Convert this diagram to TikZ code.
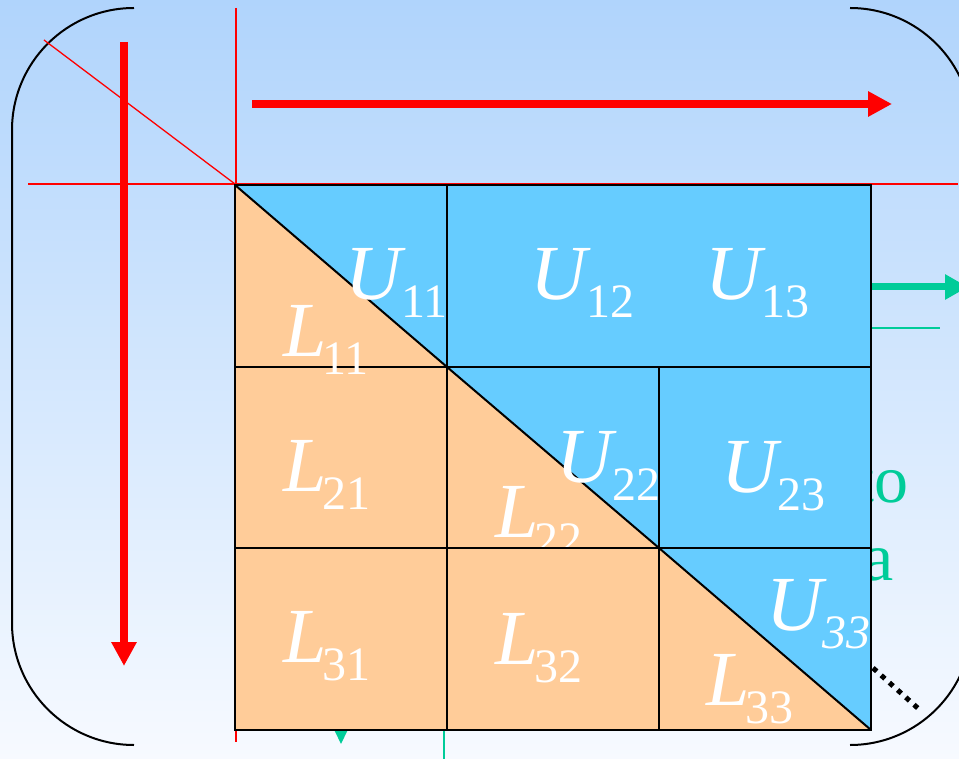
\documentclass[tikz,border=0pt]{standalone}
\usepackage{fontspec}
\setmainfont{Liberation Serif}
\usetikzlibrary{arrows.meta}
\definecolor{ublue}{RGB}{102,204,255}
\definecolor{lorange}{RGB}{255,204,153}
\definecolor{tgreen}{RGB}{0,204,153}
\definecolor{bgtop}{RGB}{176,212,252}
\definecolor{bgbot}{RGB}{247,250,255}
\newcommand\mlab[2]{\textit{#1}\kern-4pt\raisebox{-18pt}{\fontsize{48}{48}\selectfont #2}}
\tikzset{
  cellline/.style={draw=black,line width=2pt},
  lab/.style={text=white,inner sep=0pt,anchor=base west,font=\fontsize{78}{80}\selectfont},
  gtext/.style={text=tgreen,inner sep=0pt,anchor=base east,font=\fontsize{68}{70}\selectfont},
  thinred/.style={draw=red,line width=1.3pt},
  bigred/.style={draw=red,line width=8pt,-{Triangle[length=24pt,width=24pt]}},
  bracket/.style={draw=black,line width=2pt},
}
\begin{document}
\begin{tikzpicture}[x=1pt,y=-1pt]
\useasboundingbox (0,0) rectangle (959,759);
\clip (0,0) rectangle (959,759);
\shade[top color=bgtop,bottom color=bgbot] (0,0) rectangle (959,759);
% brackets
\draw[bracket] (134,8) .. controls (66.6,8) and (12,62.6) .. (12,130) -- (12,623) .. controls (12,690.4) and (66.6,745) .. (134,745);
\draw[bracket] (850,8) .. controls (917.4,8) and (972,62.6) .. (972,130) -- (972,623) .. controls (972,690.4) and (917.4,745) .. (850,745);
% coordinates
\coordinate (vt) at (236,8);
\coordinate (vb) at (236,742);
\coordinate (hl) at (28,184);
\coordinate (hr) at (958,184);
\coordinate (dg) at (44,40);
\coordinate (corner) at (235,184);
\coordinate (dA) at (124,42);
\coordinate (dB) at (124,666);
\coordinate (rA) at (252,104);
\coordinate (rB) at (892,104);
\coordinate (gA) at (800,287);
\coordinate (gB) at (968,287);
\coordinate (gl1) at (860,328);
\coordinate (gl2) at (940,328);
\coordinate (gtA) at (341,700);
\coordinate (gtB) at (341,744);
\coordinate (gvA) at (444,700);
\coordinate (gvB) at (444,759);
% red guides
\draw[thinred] (vt) -- (vb);
\draw[thinred] (hl) -- (hr);
\draw[thinred] (dg) -- (corner);
\draw[bigred] (dA) -- (dB);
\draw[bigred] (rA) -- (rB);
% green items behind matrix
\draw[tgreen,line width=7pt,-{Triangle[length=23pt,width=24pt]}] (gA) -- (gB);
\draw[tgreen,line width=2pt] (gl1) -- (gl2);
\draw[tgreen,line width=2pt,-{Triangle[length=14pt,width=13pt]}] (gtA) -- (gtB);
\draw[tgreen,line width=2pt] (gvA) -- (gvB);
\node[gtext] (to) at (909,502) {to};
\node[gtext] (a) at (894,580) {a};
% row 1
\fill[lorange] (235,185) -- (235,367) -- (447,367) -- cycle;
\fill[ublue] (235,185) -- (447,185) -- (447,367) -- cycle;
\fill[ublue] (447,185) rectangle (871,367);
\draw[cellline] (235,185) rectangle (447,367);
\draw[cellline] (447,185) rectangle (871,367);
\draw[cellline] (235,185) -- (447,367);
\node[lab] (u11) at (345,300) {\mlab{U}{11}};
\node[lab] (u12) at (530,300) {\mlab{U}{12}};
\node[lab] (u13) at (705,300) {\mlab{U}{13}};
% row 2
\fill[lorange] (235,367) rectangle (447,548);
\fill[lorange] (447,367) -- (447,548) -- (659,548) -- cycle;
\fill[ublue] (447,367) -- (659,367) -- (659,548) -- cycle;
\fill[ublue] (659,367) rectangle (871,548);
\draw[cellline] (235,367) rectangle (447,548);
\draw[cellline] (447,367) rectangle (659,548);
\draw[cellline] (659,367) rectangle (871,548);
\draw[cellline] (447,367) -- (659,548);
\node[lab] (l11) at (283,357) {\mlab{L}{11}};
\node[lab] (l21) at (283,491) {\mlab{L}{21}};
\node[lab] (u22) at (556,482) {\mlab{U}{22}};
\node[lab] (l22) at (495,537) {\mlab{L}{22}};
\node[lab] (u23) at (721,492) {\mlab{U}{23}};
% row 3
\fill[lorange] (235,548) rectangle (659,730);
\fill[lorange] (659,548) -- (659,730) -- (871,730) -- cycle;
\fill[ublue] (659,548) -- (871,548) -- (871,730) -- cycle;
\draw[cellline] (235,548) rectangle (447,730);
\draw[cellline] (447,548) rectangle (659,730);
\draw[cellline] (659,548) rectangle (871,730);
\draw[cellline] (659,548) -- (871,730);
\node[lab] (l31) at (283,662) {\mlab{L}{31}};
\node[lab] (l32) at (495,664) {\mlab{L}{32}};
\node[lab] (u33) at (766,630) {\textit{U}\kern-4pt\raisebox{-18pt}{\fontsize{48}{48}\selectfont\itshape 33}};
\node[lab] (l33) at (706,705) {\mlab{L}{33}};
% dotted
\coordinate (dt1) at (873,668);
\coordinate (dt2) at (921,711);
\draw[black,line width=5pt,dash pattern=on 5pt off 6pt] (dt1) -- (dt2);
\end{tikzpicture}
\end{document}
